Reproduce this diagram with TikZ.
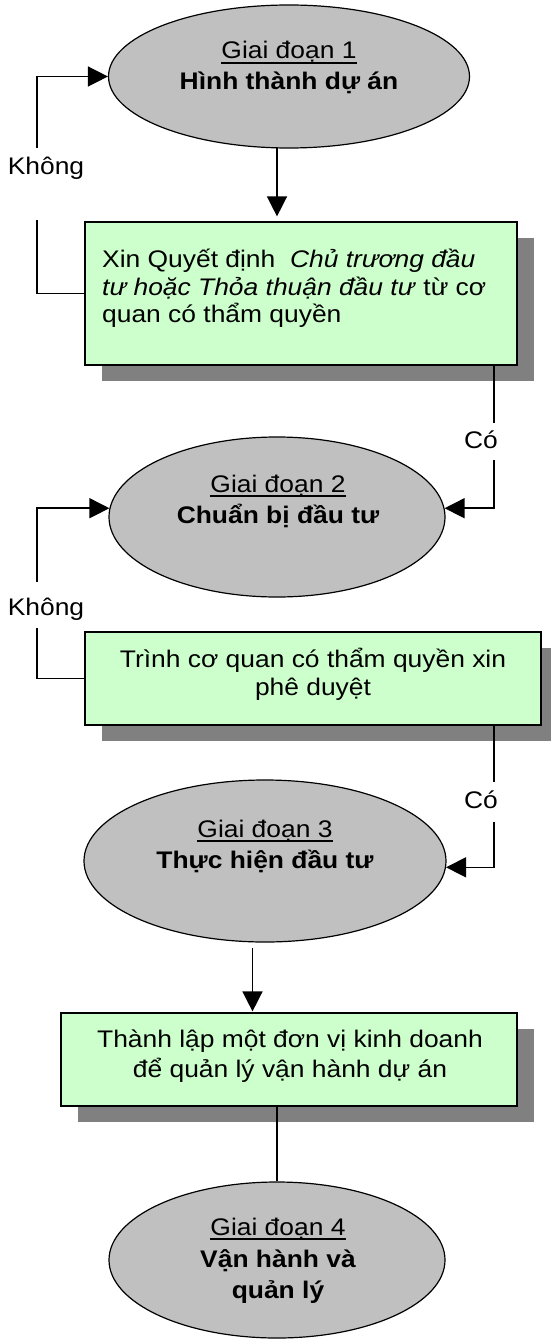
\documentclass[tikz,border=0pt]{standalone}
\usepackage{fontspec}
\setmainfont{Liberation Sans}[FakeStretch=1.1]
\usetikzlibrary{shapes.geometric,arrows.meta,shadows,calc}
\definecolor{ellgray}{RGB}{192,192,192}
\definecolor{boxgreen}{RGB}{204,255,204}
\definecolor{shadowgray}{RGB}{128,128,128}
\begin{document}
\begin{tikzpicture}[x=1pt,y=-1pt,
  stage/.style={ellipse, draw=black, line width=1.2pt, fill=ellgray, inner sep=0pt},
  stepbox/.style={rectangle, draw=black, line width=1.2pt, fill=boxgreen, inner sep=0pt,
    drop shadow={shadow xshift=17pt, shadow yshift=-16pt, fill=shadowgray, opacity=1}},
  txt/.style={inner sep=0pt, font=\fontsize{24}{28}\selectfont},
  conn/.style={line width=1.5pt},
  arr/.style={conn, -{Triangle[length=20pt,width=20pt]}},
  uline/.style={line width=1.2pt}]

\useasboundingbox (0,0) rectangle (550,1340);

% shapes
\node[stage, minimum width=361pt, minimum height=143pt] (e1) at (289,76.5) {};
\node[stepbox, minimum width=432pt, minimum height=143pt] (b1) at (301,293.5) {};
\node[stage, minimum width=336pt, minimum height=160pt] (e2) at (277,517) {};
\node[stepbox, minimum width=456pt, minimum height=93pt] (b2) at (313,678.5) {};
\node[stage, minimum width=362pt, minimum height=162pt] (e3) at (265,861) {};
\node[stepbox, minimum width=456pt, minimum height=93pt] (b3) at (289,1059.5) {};
\node[stage, minimum width=336pt, minimum height=156pt] (e4) at (277,1260) {};

% texts
\node[txt, anchor=base] (g1) at (289,59) {Giai đoạn 1};
\node[txt, anchor=base] (t1) at (289,90) {\textbf{Hình thành dự án}};

\node[txt, anchor=base west] (b1l1) at (102,267) {Xin Quyết định\ \ \textit{Chủ trương đầu}};
\node[txt, anchor=base west] (b1l2) at (102,295) {\textit{tư hoặc Thỏa thuận đầu tư} từ cơ};
\node[txt, anchor=base west] (b1l3) at (102,322) {quan có thẩm quyền};

\node[txt, anchor=base] (g2) at (278,492) {Giai đoạn 2};
\node[txt, anchor=base] (t2) at (278,523) {\textbf{Chuẩn bị đầu tư}};

\node[txt, anchor=base] (b2l1) at (313,667) {Trình cơ quan có thẩm quyền xin};
\node[txt, anchor=base] (b2l2) at (313,695) {phê duyệt};

\node[txt, anchor=base] (g3) at (265,837) {Giai đoạn 3};
\node[txt, anchor=base] (t3) at (265,868) {\textbf{Thực hiện đầu tư}};

\node[txt, anchor=base] (b3l1) at (290,1047) {Thành lập một đơn vị kinh doanh};
\node[txt, anchor=base] (b3l2) at (290,1077) {để quản lý vận hành dự án};

\node[txt, anchor=base] (g4) at (278,1235) {Giai đoạn 4};
\node[txt, anchor=base] (t4a) at (278,1267) {\textbf{Vận hành và}};
\node[txt, anchor=base] (t4b) at (278,1298) {\textbf{quản lý}};

\foreach \g in {g1,g2,g3,g4}
  \draw[uline] ([yshift=-4pt]\g.base west) -- ([yshift=-4pt]\g.base east);

% labels
\node[txt, anchor=base] (k1) at (46,175) {Không};
\node[txt, anchor=base] (k2) at (46,615) {Không};
\node[txt, anchor=base] (c1) at (481,448) {Có};
\node[txt, anchor=base] (c2) at (481,808) {Có};

% connector coordinates
\coordinate (ka) at (37,220);
\coordinate (kb) at (37,148);
\coordinate (kc) at (37,628);
\coordinate (kd) at (37,582);
\coordinate (ca) at (494,423);
\coordinate (cb) at (494,460);
\coordinate (cc) at (494,782);
\coordinate (cd) at (494,822);
\coordinate (a1) at (277,148);
\coordinate (a3) at (252.5,948);

% connectors
\draw[conn] (b1.west) -| (ka);
\draw[arr] (kb) |- (e1.west);
\draw[arr, shorten >=5pt] (a1) -- (a1 |- b1.north);

\draw[conn] (b1.south -| ca) -- (ca);
\draw[arr] (cb) |- (e2.3);
\draw[conn] (b2.west) -| (kc);
\draw[arr] (kd) |- (e2.177);

\draw[conn] (b2.south -| cc) -- (cc);
\draw[arr] (cd) |- (e3.-2);
\draw[arr, shorten >=1pt] (a3) -- (a3 |- b3.north);

\draw[conn] (e4.north |- b3.south) -- (e4.north);
\end{tikzpicture}
\end{document}
